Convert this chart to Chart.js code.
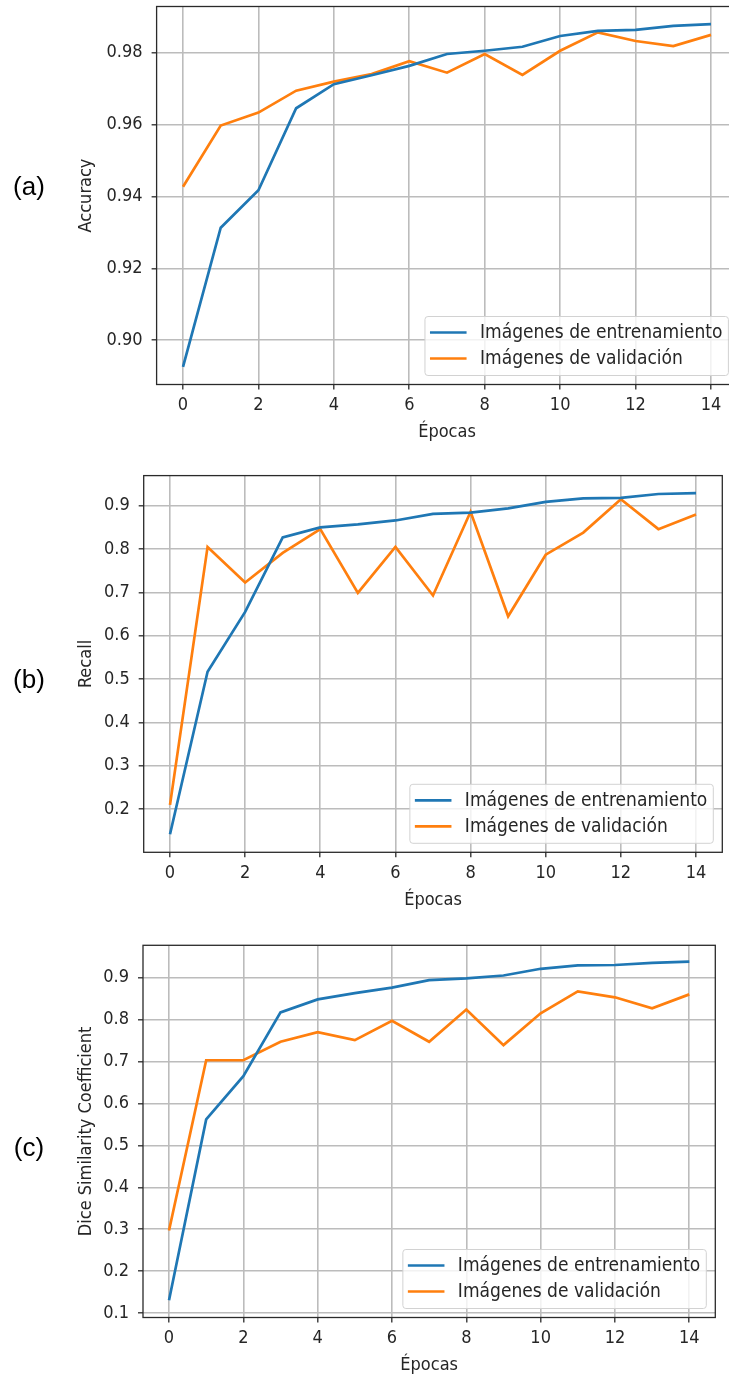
<!DOCTYPE html>
<html>
<head>
<meta charset="utf-8">
<script src="https://cdn.jsdelivr.net/npm/chart.js@4.4.0/dist/chart.umd.min.js"></script>
<style>
  html, body { margin: 0; padding: 0; background: #fff; width: 729px; height: 1376px; overflow: hidden; }
  canvas { position: absolute; left: 0; }
  .tag { position: absolute; font-family: 'Liberation Sans', Arial, sans-serif; font-size: 26px; color: #000;
         transform: translate(-50%, -50%); line-height: 1; }
</style>
</head>
<body>
<canvas id="accChart"></canvas>
<canvas id="recallChart"></canvas>
<canvas id="diceChart"></canvas>
<div class="tag" style="left:29px; top:186px;">(a)</div>
<div class="tag" style="left:29px; top:679px;">(b)</div>
<div class="tag" style="left:29px; top:1147px;">(c)</div>
<script>
// Training history: one value per epoch
const epochs = [0, 1, 2, 3, 4, 5, 6, 7, 8, 9, 10, 11, 12, 13, 14];
const seriesLabels = ['Imágenes de entrenamiento', 'Imágenes de validación'];

const accTrain = [0.8926, 0.9313, 0.9417, 0.9645, 0.9712, 0.9737, 0.9763, 0.9796, 0.9805, 0.9816, 0.9846, 0.9860, 0.9863, 0.9874, 0.9879];
const accVal   = [0.9427, 0.9597, 0.9633, 0.9694, 0.9719, 0.9740, 0.9776, 0.9744, 0.9796, 0.9738, 0.9805, 0.9856, 0.9832, 0.9818, 0.9849];

const recallTrain = [0.142, 0.517, 0.655, 0.827, 0.850, 0.857, 0.866, 0.881, 0.884, 0.894, 0.909, 0.917, 0.918, 0.927, 0.929];
const recallVal   = [0.210, 0.805, 0.723, 0.791, 0.846, 0.699, 0.805, 0.693, 0.886, 0.645, 0.787, 0.838, 0.915, 0.846, 0.880];

const diceTrain = [0.131, 0.562, 0.665, 0.817, 0.848, 0.863, 0.876, 0.894, 0.898, 0.905, 0.921, 0.929, 0.930, 0.935, 0.938];
const diceVal   = [0.297, 0.703, 0.703, 0.747, 0.770, 0.751, 0.797, 0.747, 0.824, 0.739, 0.815, 0.867, 0.853, 0.827, 0.860];

// Tick positions and their labels
const xTickValues = [0, 2, 4, 6, 8, 10, 12, 14];
const accTickValues = [0.90, 0.92, 0.94, 0.96, 0.98];
const accTickLabels = ['0.90', '0.92', '0.94', '0.96', '0.98'];
const recallTickValues = [0.2, 0.3, 0.4, 0.5, 0.6, 0.7, 0.8, 0.9];
const recallTickLabels = ['0.2', '0.3', '0.4', '0.5', '0.6', '0.7', '0.8', '0.9'];
const diceTickValues = [0.1, 0.2, 0.3, 0.4, 0.5, 0.6, 0.7, 0.8, 0.9];
const diceTickLabels = ['0.1', '0.2', '0.3', '0.4', '0.5', '0.6', '0.7', '0.8', '0.9'];

const BLUE = '#1f77b4';
const ORANGE = '#ff7f0e';
const FONT_FAMILY = "'DejaVu Sans Condensed', 'DejaVu Sans', sans-serif";
const FONT_SIZE = 18;
const LEGEND_FONT_SIZE = 19;
const TEXT_COLOR = '#262626';
const GRID_COLOR = '#bcbcbc';

// Axes frame plus a boxed legend in the lower-right corner of the plot area
const framePlugin = {
  id: 'frameAndLegend',
  afterDatasetsDraw(chart) {
    const { ctx, chartArea: a } = chart;
    ctx.save();
    ctx.strokeStyle = '#2a2a2a';
    ctx.lineWidth = 1.3;
    ctx.strokeRect(a.left, a.top, a.right - a.left, a.bottom - a.top);

    ctx.font = LEGEND_FONT_SIZE + "px " + FONT_FAMILY;
    const labels = chart.data.datasets.map(d => d.label);
    const textW = Math.max(...labels.map(t => ctx.measureText(t).width));
    const boxW = 55 + textW + 6;
    const boxH = 59;
    const bx = a.right - 9 - boxW;
    const by = a.bottom - 9 - boxH;
    ctx.beginPath();
    ctx.roundRect(bx, by, boxW, boxH, 3);
    ctx.fillStyle = 'rgba(255,255,255,0.8)';
    ctx.fill();
    ctx.strokeStyle = '#d2d2d2';
    ctx.lineWidth = 1;
    ctx.stroke();
    chart.data.datasets.forEach((d, i) => {
      const ly = by + 16 + i * 26;
      ctx.beginPath();
      ctx.moveTo(bx + 5, ly);
      ctx.lineTo(bx + 41.6, ly);
      ctx.strokeStyle = d.borderColor;
      ctx.lineWidth = d.borderWidth;
      ctx.stroke();
      ctx.fillStyle = TEXT_COLOR;
      ctx.textAlign = 'left';
      ctx.textBaseline = 'middle';
      ctx.fillText(d.label, bx + 55, ly + 1);
    });
    ctx.restore();
  }
};

function buildChart(id, train, val, yMin, yMax, yTickValues, yTickLabels, yTitle, geo) {
  const X_AXIS_H = 58.8;
  const PAD_LEFT = 76;
  const canvas = document.getElementById(id);
  const height = Math.ceil(geo.bottom - geo.canvasTop + X_AXIS_H);
  const width = Math.ceil(geo.right);
  canvas.width = width;
  canvas.height = height;
  canvas.style.top = geo.canvasTop + 'px';
  canvas.style.width = width + 'px';
  canvas.style.height = height + 'px';

  const toPoints = arr => epochs.map((e, i) => ({ x: e, y: arr[i] }));
  const tickFont = { family: FONT_FAMILY, size: FONT_SIZE };

  return new Chart(canvas, {
    type: 'line',
    data: {
      datasets: [
        { label: seriesLabels[0], data: toPoints(train), borderColor: BLUE, backgroundColor: BLUE, borderWidth: 2.7, pointRadius: 0, tension: 0 },
        { label: seriesLabels[1], data: toPoints(val), borderColor: ORANGE, backgroundColor: ORANGE, borderWidth: 2.7, pointRadius: 0, tension: 0 }
      ]
    },
    options: {
      responsive: false,
      animation: false,
      devicePixelRatio: 1,
      layout: {
        padding: {
          top: geo.top - geo.canvasTop,
          left: PAD_LEFT,
          right: width - geo.right,
          bottom: height - (geo.bottom - geo.canvasTop) - X_AXIS_H
        }
      },
      plugins: { legend: { display: false }, tooltip: { enabled: false } },
      scales: {
        x: {
          type: 'linear',
          min: -0.7,
          max: 14.7,
          afterBuildTicks: s => { s.ticks = xTickValues.map(v => ({ value: v })); },
          afterFit: s => { s.height = X_AXIS_H; s.paddingLeft = 0; s.paddingRight = 0; },
          ticks: { color: TEXT_COLOR, font: tickFont, padding: 5, maxRotation: 0, autoSkip: false,
                   callback: v => String(v) },
          grid: { color: GRID_COLOR, lineWidth: 1.6, tickColor: '#2a2a2a', tickWidth: 1.3, tickLength: 5 },
          border: { display: false },
          title: { display: true, text: 'Épocas', color: TEXT_COLOR, font: tickFont, padding: { top: 0, bottom: 0 } }
        },
        y: {
          type: 'linear',
          min: yMin,
          max: yMax,
          afterBuildTicks: s => { s.ticks = yTickValues.map(v => ({ value: v })); },
          afterFit: s => { s.width = geo.left - PAD_LEFT; s.paddingTop = 0; s.paddingBottom = 0; },
          ticks: { color: TEXT_COLOR, font: tickFont, padding: 9,
                   callback: v => yTickLabels[yTickValues.findIndex(t => Math.abs(t - v) < 1e-9)] },
          grid: { color: GRID_COLOR, lineWidth: 1.6, tickColor: '#2a2a2a', tickWidth: 1.3, tickLength: 5 },
          border: { display: false },
          title: { display: true, text: yTitle, color: TEXT_COLOR, font: tickFont, padding: { top: 0, bottom: 0 } }
        }
      }
    },
    plugins: [framePlugin]
  });
}

buildChart('accChart', accTrain, accVal, 0.8877, 0.9928, accTickValues, accTickLabels, 'Accuracy',
  { canvasTop: 0, top: 6.5, bottom: 384.5, left: 156.6, right: 737.4 });
buildChart('recallChart', recallTrain, recallVal, 0.1005, 0.9695, recallTickValues, recallTickLabels, 'Recall',
  { canvasTop: 460, top: 475.6, bottom: 852.3, left: 143.7, right: 722.3 });
buildChart('diceChart', diceTrain, diceVal, 0.0897, 0.977, diceTickValues, diceTickLabels, 'Dice Similarity Coefficient',
  { canvasTop: 925, top: 945.3, bottom: 1317.5, left: 143, right: 715.3 });
</script>
</body>
</html>
